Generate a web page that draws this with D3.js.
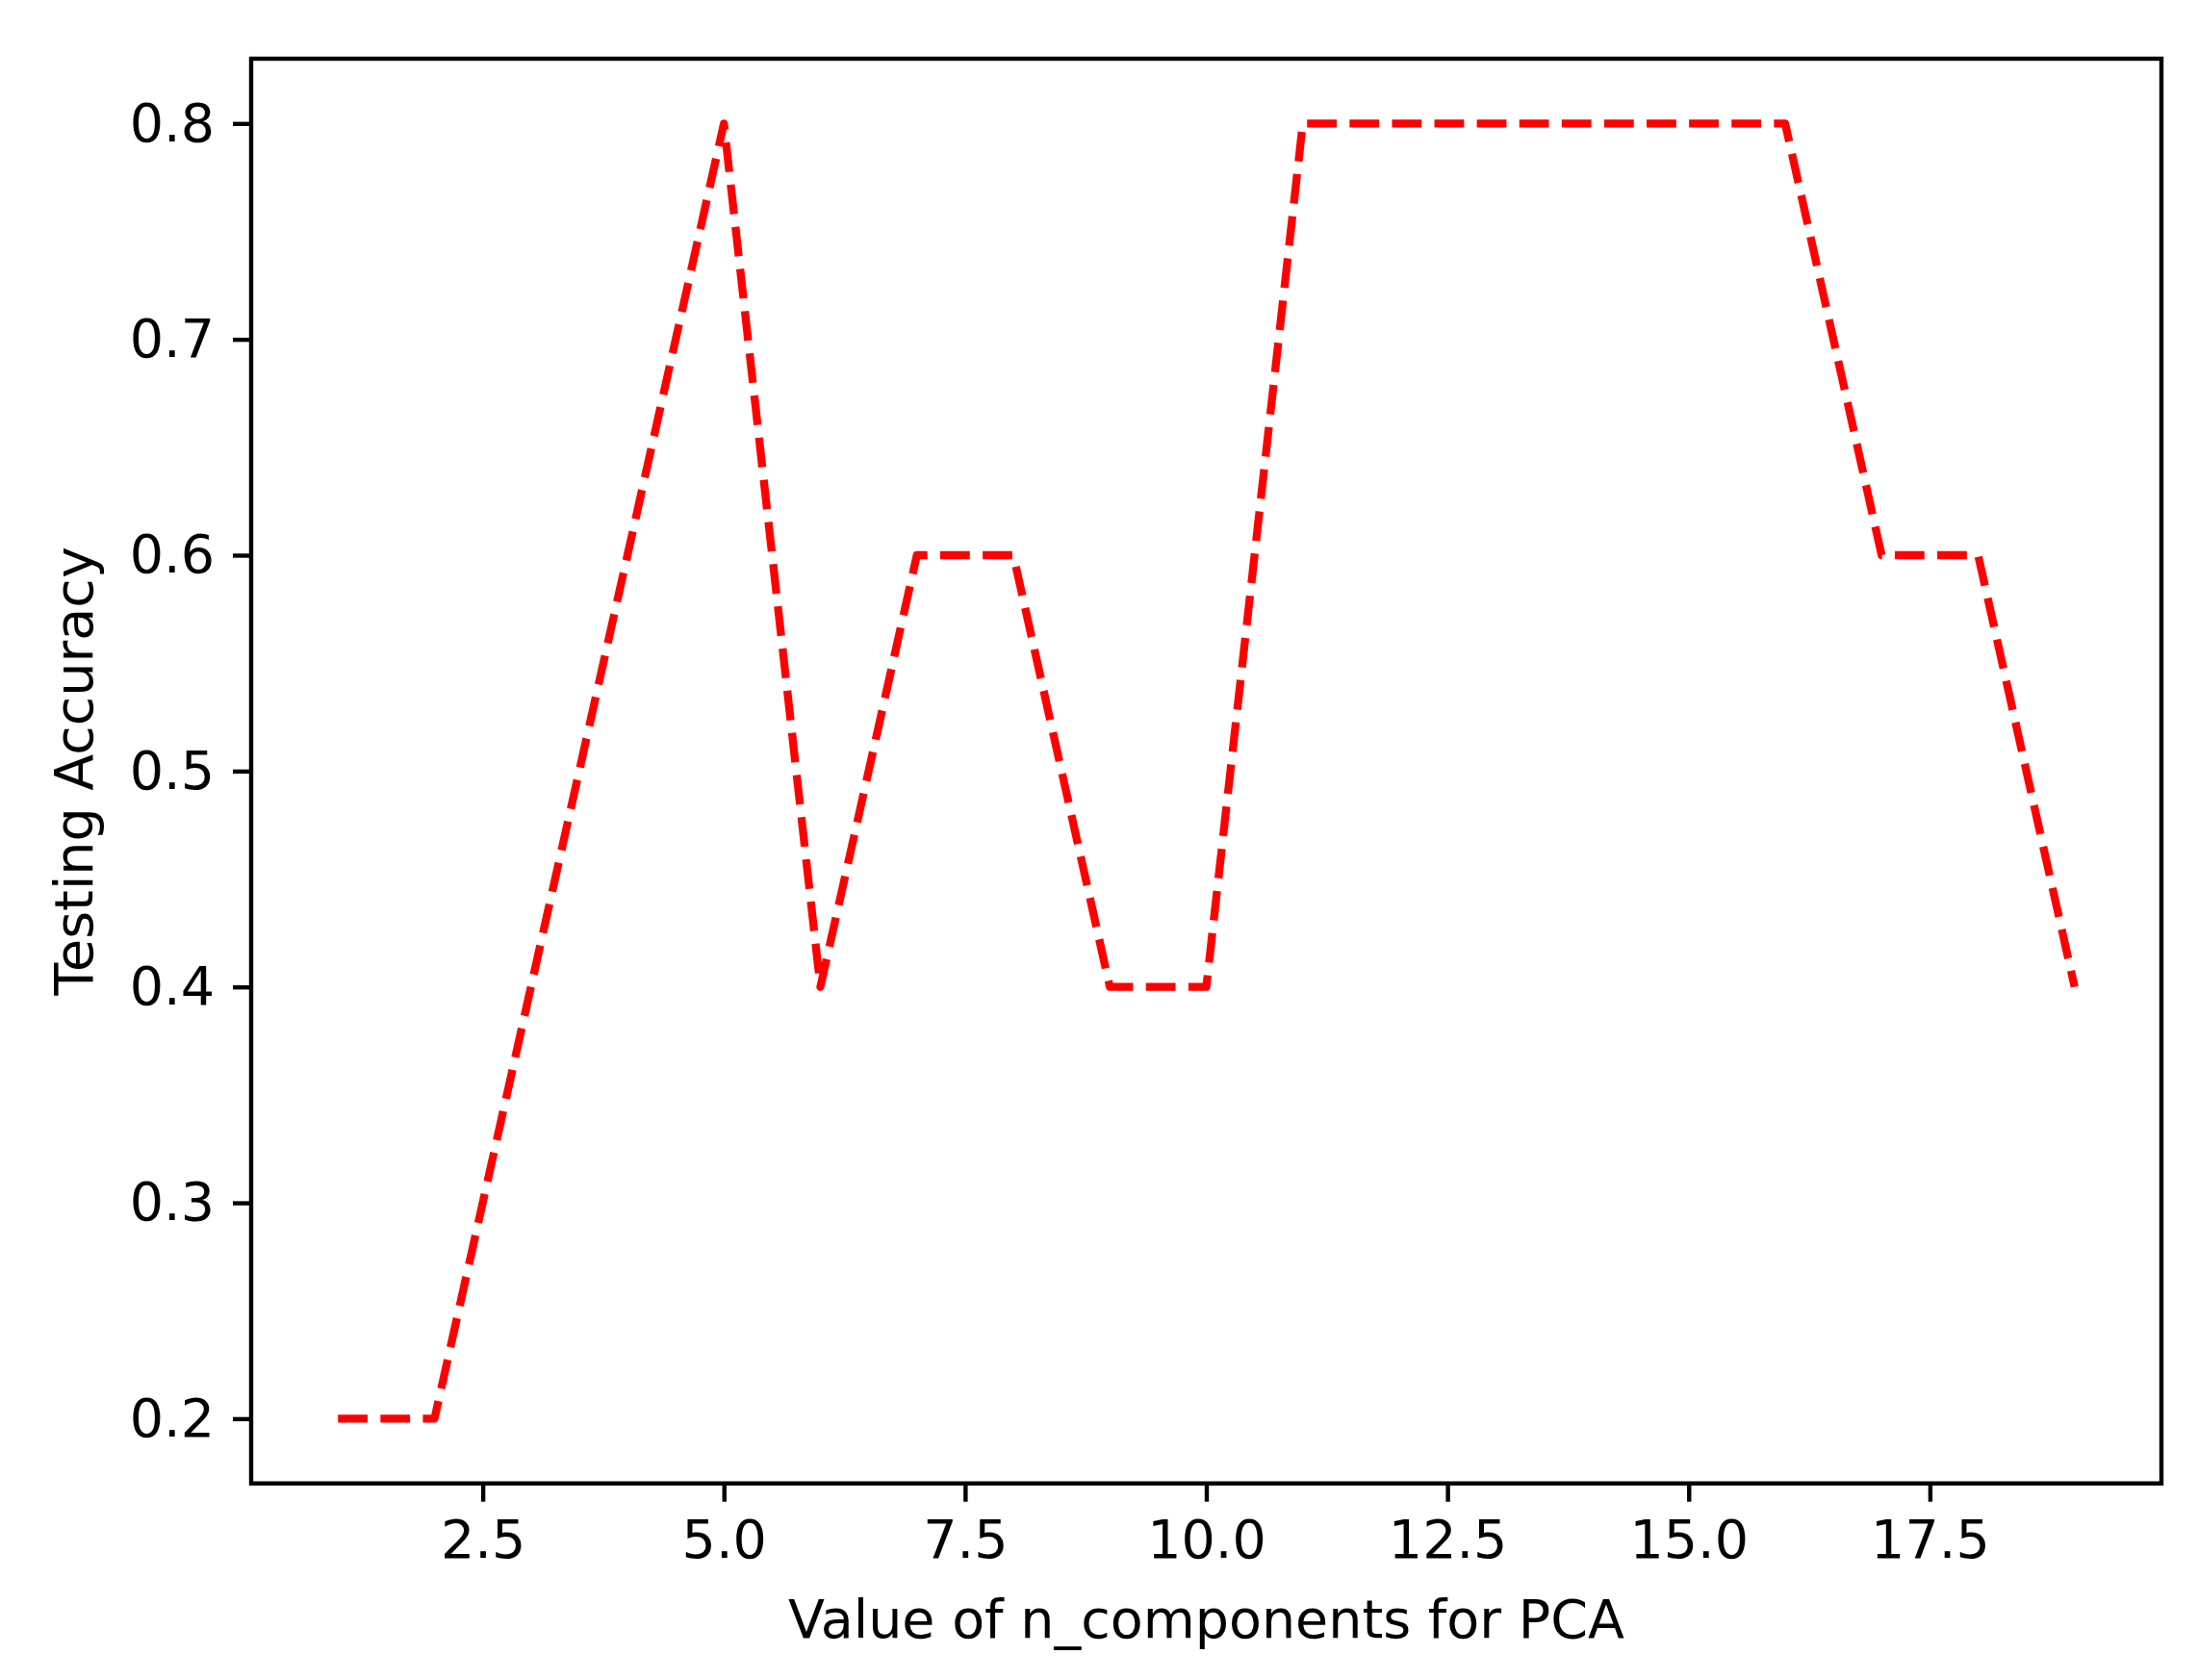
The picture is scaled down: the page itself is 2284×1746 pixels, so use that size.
<!DOCTYPE html>
<html>
<head>
<meta charset="utf-8">
<script src="https://cdn.jsdelivr.net/npm/d3@7"></script>
<style>
  html, body { margin: 0; padding: 0; background: #fff; }
  svg { display: block; }
  text { font-family: "DejaVu Sans", sans-serif; fill: #000; }
</style>
</head>
<body>
<script>
// ---- data ----
const nComponents = [1, 2, 3, 4, 5, 6, 7, 8, 9, 10, 11, 12, 13, 14, 15, 16, 17, 18, 19];
const accuracy    = [0.2, 0.2, 0.4, 0.6, 0.8, 0.4, 0.6, 0.6, 0.4, 0.4, 0.8, 0.8, 0.8, 0.8, 0.8, 0.8, 0.6, 0.6, 0.4];
const xTicks = [2.5, 5.0, 7.5, 10.0, 12.5, 15.0, 17.5];
const yTicks = [0.2, 0.3, 0.4, 0.5, 0.6, 0.7, 0.8];
const xLabel = "Value of n_components for PCA";
const yLabel = "Testing Accuracy";

// ---- layout ----
const W = 2284, H = 1746;
const pLeft = 261, pRight = 2246, pTop = 61, pBottom = 1541.7;
const fontSize = 55.5;

const svg = d3.select("body").append("svg").attr("width", W).attr("height", H);
svg.append("rect").attr("width", W).attr("height", H).attr("fill", "#fff");

const x = d3.scaleLinear().domain([0.1, 19.9]).range([pLeft, pRight]);
const y = d3.scaleLinear().domain([0.17, 0.83]).range([pBottom, pTop]);

// line
const line = d3.line().x((d, i) => x(nComponents[i])).y(d => y(d));
svg.append("path")
  .datum(accuracy)
  .attr("d", line)
  .attr("fill", "none")
  .attr("stroke", "#ff0000")
  .attr("stroke-width", 8.3)
  .attr("stroke-dasharray", "30.8,13.3")
  .attr("stroke-linecap", "butt")
  .attr("stroke-linejoin", "round");

// axes
const xAxis = d3.axisBottom(x).tickValues(xTicks).tickFormat(d3.format(".1f"))
  .tickSize(19).tickPadding(19);
const yAxis = d3.axisLeft(y).tickValues(yTicks).tickFormat(d3.format(".1f"))
  .tickSize(19).tickPadding(19);

const gx = svg.append("g").attr("transform", `translate(0,${pBottom})`).call(xAxis);
const gy = svg.append("g").attr("transform", `translate(${pLeft},0)`).call(yAxis);
[gx, gy].forEach(g => {
  g.select(".domain").remove();
  g.selectAll(".tick line").attr("stroke", "#000").attr("stroke-width", 4.4);
  g.selectAll(".tick text").attr("font-size", fontSize).attr("font-family", "DejaVu Sans").attr("fill", "#000");
});

// frame (spines)
svg.append("rect")
  .attr("x", pLeft).attr("y", pTop)
  .attr("width", pRight - pLeft).attr("height", pBottom - pTop)
  .attr("fill", "none").attr("stroke", "#000").attr("stroke-width", 4.4);

// axis labels
svg.append("text")
  .attr("x", (pLeft + pRight) / 2).attr("y", 1702)
  .attr("text-anchor", "middle").attr("font-size", fontSize)
  .text(xLabel);

svg.append("text")
  .attr("transform", `translate(96,${(pTop + pBottom) / 2}) rotate(-90)`)
  .attr("text-anchor", "middle").attr("font-size", fontSize)
  .text(yLabel);
</script>
</body>
</html>
